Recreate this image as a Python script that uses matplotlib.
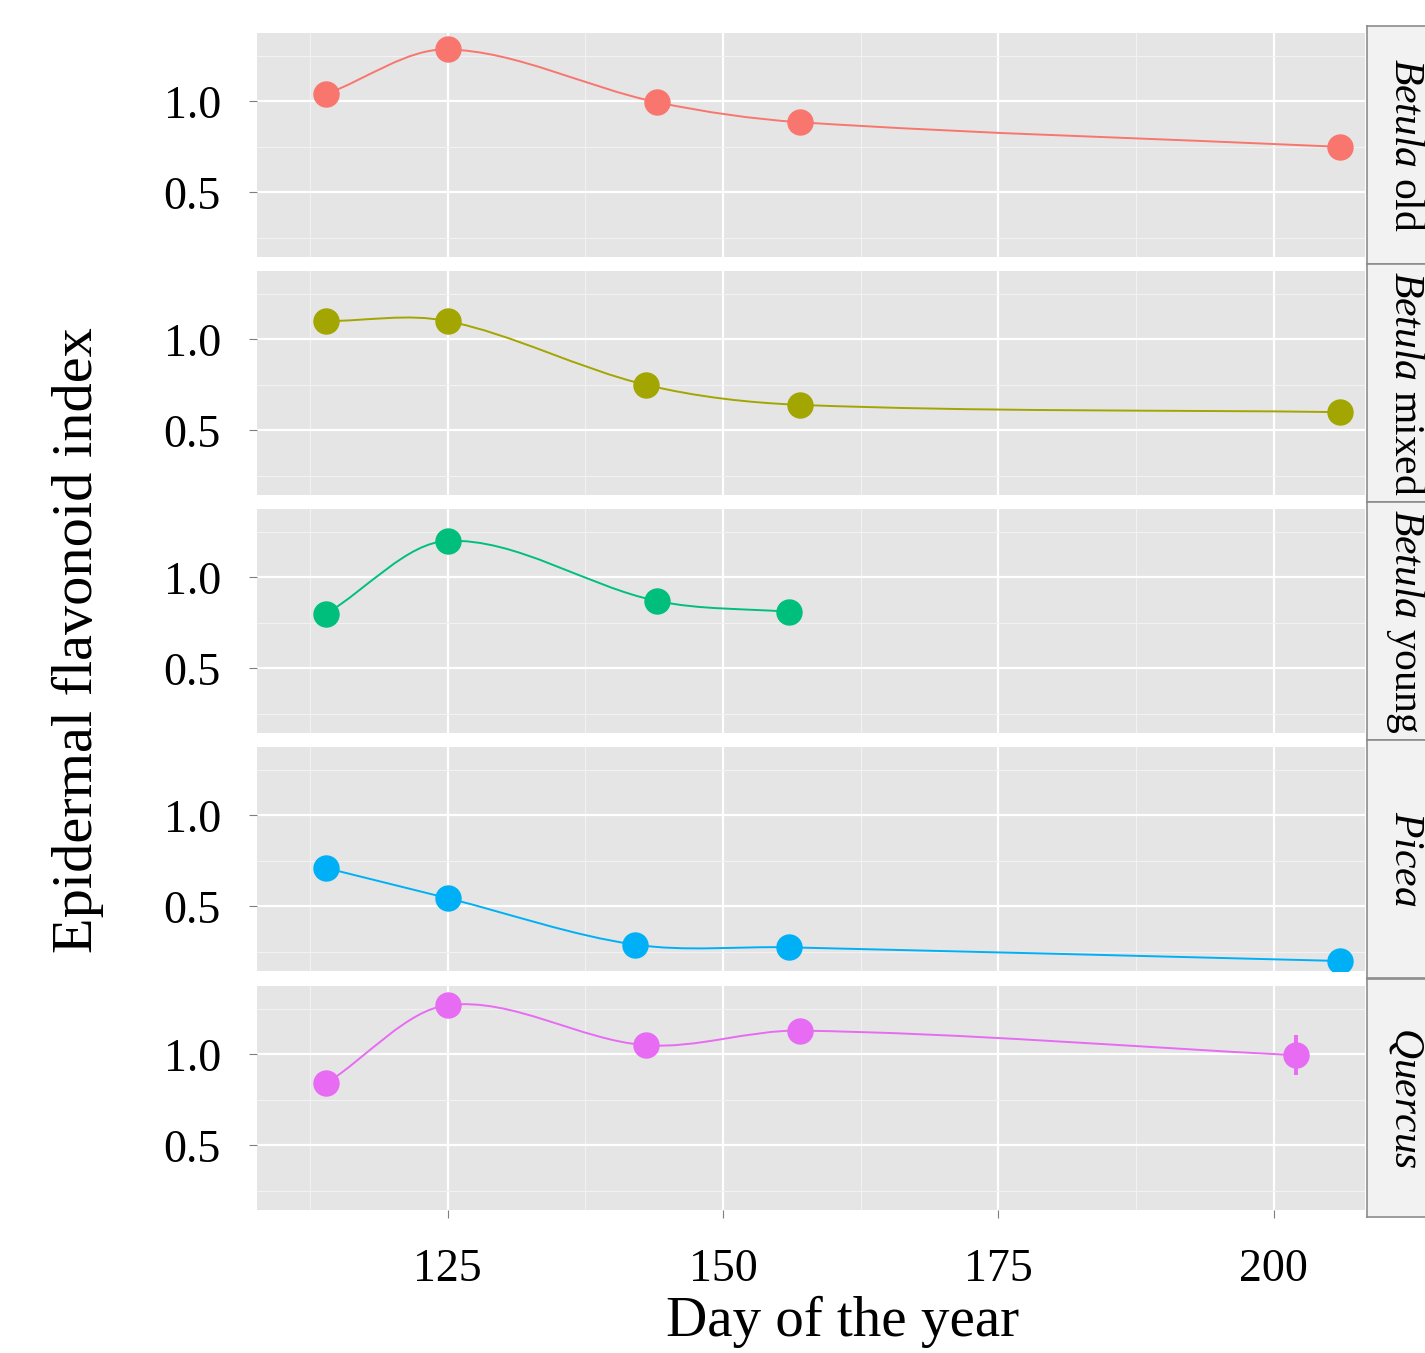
import numpy as np
import matplotlib
matplotlib.use("Agg")
import matplotlib.pyplot as plt
from matplotlib.path import Path
from matplotlib.patches import PathPatch

plt.rcParams['font.family'] = ['Liberation Serif', 'DejaVu Serif']
plt.rcParams['mathtext.fontset'] = 'custom'
plt.rcParams['mathtext.rm'] = 'Liberation Serif'
plt.rcParams['mathtext.it'] = 'Liberation Serif:italic'

# facets (genus in italics, then suffix)
genus = ["Betula", "Betula", "Betula", "Picea", "Quercus"]
suffix = ["old", "mixed", "young", "", ""]
colors = ["#F8766D", "#A3A500", "#00BF7D", "#00B0F6", "#E76BF3"]

# day of the year for each facet
days_old = [114, 125, 144, 157, 206]
days_mixed = [114, 125, 143, 157, 206]
days_young = [114, 125, 144, 156]
days_picea = [114, 125, 142, 156, 206]
days_quercus = [114, 125, 143, 157, 202]

# epidermal flavonoid index
flav_old = [1.04, 1.285, 0.995, 0.885, 0.75]
flav_mixed = [1.10, 1.10, 0.75, 0.64, 0.60]
flav_young = [0.80, 1.20, 0.87, 0.81]
flav_picea = [0.71, 0.545, 0.29, 0.275, 0.20]
flav_quercus = [0.84, 1.27, 1.05, 1.13, 0.995]

# standard errors (mostly hidden behind the points)
se_old = [0.02, 0.02, 0.02, 0.02, 0.02]
se_mixed = [0.02, 0.02, 0.02, 0.02, 0.02]
se_young = [0.02, 0.02, 0.02, 0.02]
se_picea = [0.02, 0.02, 0.02, 0.02, 0.02]
se_quercus = [0.02, 0.02, 0.02, 0.02, 0.11]

days = [days_old, days_mixed, days_young, days_picea, days_quercus]
flav = [flav_old, flav_mixed, flav_young, flav_picea, flav_quercus]
ses = [se_old, se_mixed, se_young, se_picea, se_quercus]

x_ticks = [125, 150, 175, 200]
y_ticks = [0.5, 1.0]


def smooth_path(x, y):
    # cubic bezier segments through the points (Catmull-Rom style tangents)
    x = np.asarray(x, float)
    y = np.asarray(y, float)
    n = len(x)
    m = np.zeros(n)
    for i in range(n):
        if i == 0:
            m[i] = (y[1] - y[0]) / (x[1] - x[0])
        elif i == n - 1:
            m[i] = (y[-1] - y[-2]) / (x[-1] - x[-2])
        else:
            m[i] = (y[i + 1] - y[i - 1]) / (x[i + 1] - x[i - 1])
    verts = [(x[0], y[0])]
    codes = [Path.MOVETO]
    for i in range(n - 1):
        h = x[i + 1] - x[i]
        verts += [(x[i] + h / 3, y[i] + m[i] * h / 3),
                  (x[i + 1] - h / 3, y[i + 1] - m[i + 1] * h / 3),
                  (x[i + 1], y[i + 1])]
        codes += [Path.CURVE4] * 3
    return Path(verts, codes)


W, H = 1425, 1353
fig = plt.figure(figsize=(W / 100, H / 100), dpi=100)

left, right = 257 / W, 1365 / W
tops = [33, 271, 509, 747, 986]
ph = 224

for k in range(5):
    ax = fig.add_axes([left, 1 - (tops[k] + ph) / H, right - left, ph / H])
    ax.set_facecolor("#E5E5E5")
    ax.set_xlim(107.7, 208.3)
    ax.set_ylim(0.145, 1.375)
    ax.set_xticks(x_ticks)
    ax.set_xticks([112.5, 137.5, 162.5, 187.5], minor=True)
    ax.set_yticks(y_ticks)
    ax.set_yticks([0.25, 0.75, 1.25], minor=True)
    ax.grid(which="major", color="white", lw=1.6)
    ax.grid(which="minor", color="#F2F2F2", lw=0.8)
    ax.set_axisbelow(True)
    for s in ax.spines.values():
        s.set_visible(False)
    ax.tick_params(which="minor", length=0)
    ax.tick_params(which="major", length=6, color="#7F7F7F", labelsize=33)
    ax.tick_params(axis="y", pad=20)
    ax.tick_params(axis="x", pad=22)
    ax.set_yticklabels(["0.5", "1.0"])
    if k < 4:
        ax.tick_params(axis="x", which="major", length=0, labelbottom=False)

    ax.add_patch(PathPatch(smooth_path(days[k], flav[k]), fill=False,
                           edgecolor=colors[k], lw=1.4, zorder=2))
    ax.errorbar(days[k], flav[k], yerr=ses[k], fmt="o", color=colors[k],
                ms=18, elinewidth=2.8, capsize=0, zorder=3)

    # facet strip
    sax = fig.add_axes([1367 / W, 1 - (tops[k] + ph + 7) / H, 70 / W, (ph + 14) / H])
    sax.set_facecolor("#F2F2F2")
    sax.set_xticks([])
    sax.set_yticks([])
    for s in sax.spines.values():
        s.set_color("#8C8C8C")
        s.set_linewidth(1.2)
    label = r"$\mathit{" + genus[k] + "}$" + (" " + suffix[k] if suffix[k] else "")
    sax.text(0.55, 0.5, label, rotation=-90, ha="center", va="center",
             fontsize=30, transform=sax.transAxes)

    if k == 4:
        ax.set_xticklabels([str(t) for t in x_ticks])

fig.text(843 / W, 1 - 1322 / H, "Day of the year", ha="center", va="center", fontsize=41)
fig.text(78 / W, 1 - 640 / H, "Epidermal flavonoid index", ha="center", va="center",
         rotation=90, fontsize=42)

fig.savefig("out.png", dpi=100)
